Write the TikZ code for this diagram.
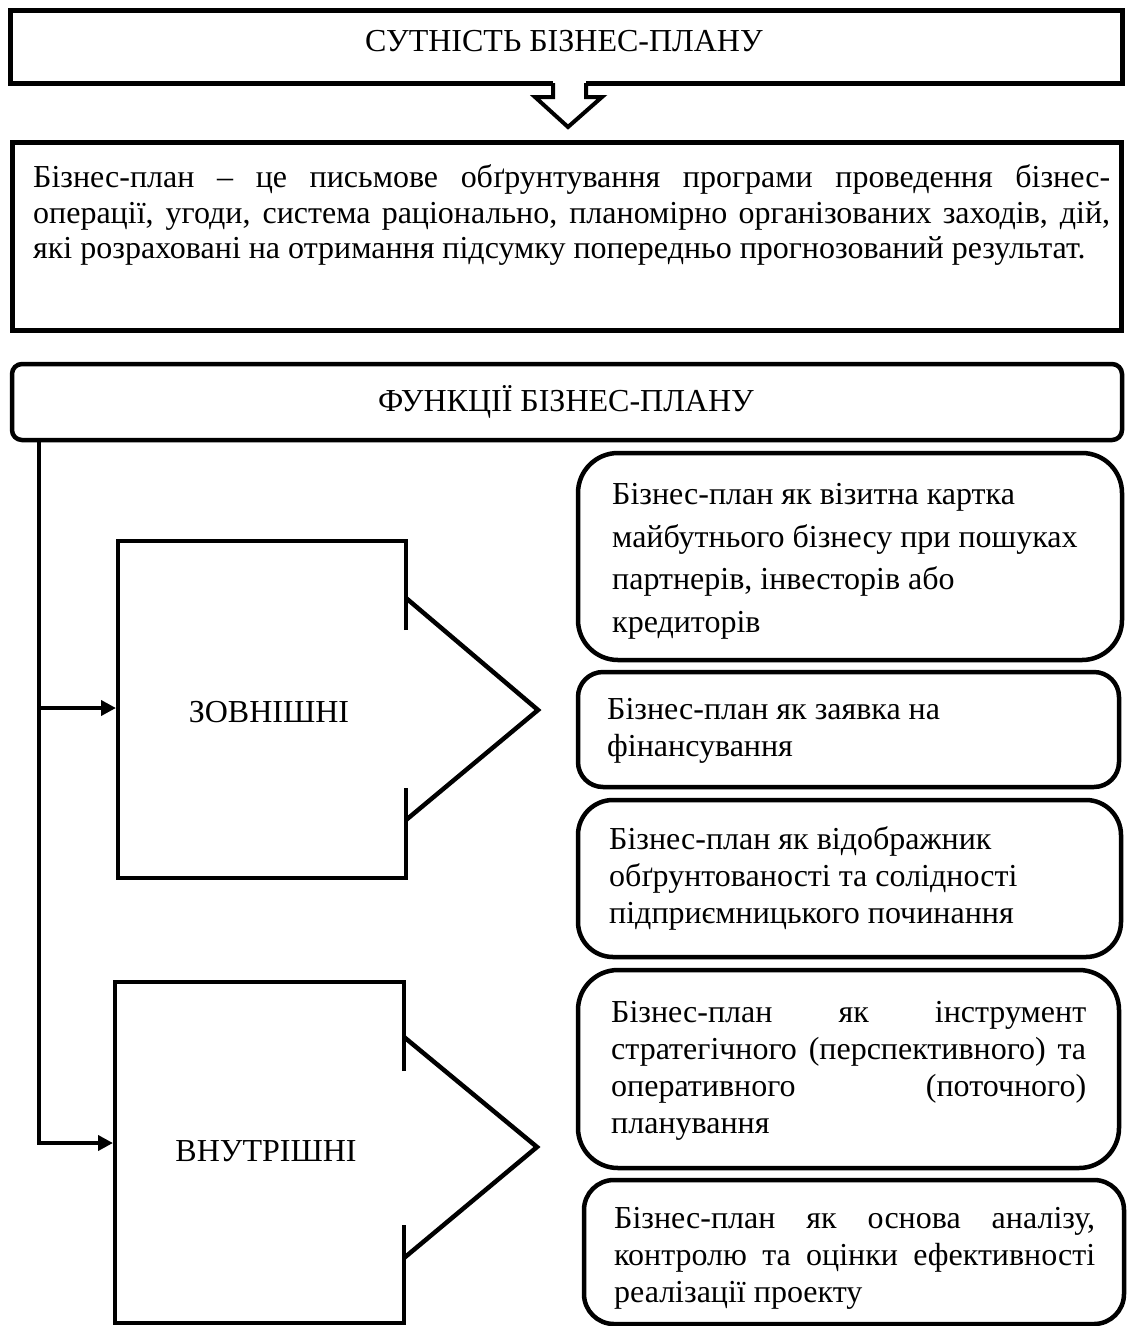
\documentclass[tikz,border=0pt]{standalone}
\usepackage{fontspec}
\setmainfont{Liberation Serif}
\usetikzlibrary{arrows.meta}
\begin{document}
\begin{tikzpicture}[x=1pt,y=-1pt,
  sqbox/.style={line width=5pt},
  rbox/.style={draw,line width=4.5pt,rounded corners=#1},
  conn/.style={line width=4pt,-{Triangle[length=15pt,width=15pt]}},
  callout/.style={line width=4.5pt,line cap=butt},
  txt/.style={font=\fontsize{32}{38}\selectfont,inner sep=0pt,anchor=base west},
  ctxt/.style={font=\fontsize{32}{38}\selectfont,inner sep=0pt,anchor=base}]
\useasboundingbox[fill=white] (0,0) rectangle (1127,1326);

% ---- top box with hollow arrow
\draw[sqbox] (10,10) rectangle (1122,83);
\node[ctxt] (t1) at (564,51) {СУТНІСТЬ БІЗНЕС-ПЛАНУ};
\fill[white] (553,80) rectangle (586,98);
\draw[line width=4pt,line join=miter] (553,83) -- (553,97) -- (535,97) -- (568,127) -- (602,97) -- (586,97) -- (586,83);

% ---- definition box
\draw[sqbox] (12,142) rectangle (1121,330);
\node[txt] (d1) at (33,187) {\makebox[1077pt][s]{Бізнес-план – це письмове обґрунтування програми проведення бізнес-}};
\node[txt] (d2) at (33,223) {\makebox[1077pt][s]{операції, угоди, система раціонально, планомірно організованих заходів, дій,}};
\node[txt] (d3) at (33,258) {які розраховані на отримання підсумку попередньо прогнозований результат.};

% ---- functions box
\node[draw,line width=4.5pt,rounded corners=10pt,minimum width=1110pt,minimum height=76pt,inner sep=0pt] (func) at (567,402) {};
\node[ctxt] (ftxt) at (566,411) {ФУНКЦІЇ БІЗНЕС-ПЛАНУ};

% ---- callout shapes
\draw[callout] (406,630) -- (406,541) -- (118,541) -- (118,878) -- (406,878) -- (406,788);
\draw[callout,line join=miter] (406,598) -- (538,710) -- (406,820);
\node[ctxt] (ext) at (269,722) {ЗОВНІШНІ};

\draw[callout] (404,1071) -- (404,982) -- (115,982) -- (115,1323) -- (404,1323) -- (404,1225);
\draw[callout,line join=miter] (404,1037) -- (537,1147) -- (404,1258);
\node[ctxt] (int) at (266,1161) {ВНУТРІШНІ};

% ---- connectors
\coordinate (vx) at (39,0);
\coordinate (v1) at (39,708);
\coordinate (v2) at (39,1143);
\coordinate (extL) at (116,708);
\coordinate (intL) at (113,1143);
\draw[conn,line join=miter] (func.south -| vx) -- (v2) -- (intL);
\draw[conn] (v1) -- (extL);

% ---- right boxes
\draw[rbox=40pt] (578,453) rectangle (1122,660);
\node[txt] (b1a) at (612,504) {Бізнес-план як візитна картка};
\node[txt] (b1b) at (612,547) {майбутнього бізнесу при пошуках};
\node[txt] (b1c) at (612,589) {партнерів, інвесторів або};
\node[txt] (b1d) at (612,632) {кредиторів};

\draw[rbox=25pt] (578,672) rectangle (1119,787);
\node[txt] (b2a) at (607,719) {Бізнес-план як заявка на};
\node[txt] (b2b) at (607,756) {фінансування};

\draw[rbox=35pt] (578,800) rectangle (1121,957);
\node[txt] (b3a) at (609,849) {Бізнес-план як відображник};
\node[txt] (b3b) at (609,886) {обґрунтованості та солідності};
\node[txt] (b3c) at (609,923) {підприємницького починання};

\draw[rbox=40pt] (578,970) rectangle (1119,1168);
\node[txt] (b4a) at (611,1022) {\makebox[475pt][s]{Бізнес-план як інструмент}};
\node[txt] (b4b) at (611,1059) {\makebox[475pt][s]{стратегічного (перспективного) та}};
\node[txt] (b4c) at (611,1096) {\makebox[475pt][s]{оперативного (поточного)}};
\node[txt] (b4d) at (611,1133) {планування};

\draw[rbox=30pt] (584,1180) rectangle (1124,1324);
\node[txt] (b5a) at (614,1228) {\makebox[481pt][s]{Бізнес-план як основа аналізу,}};
\node[txt] (b5b) at (614,1265) {\makebox[481pt][s]{контролю та оцінки ефективності}};
\node[txt] (b5c) at (614,1302) {реалізації проекту};
\end{tikzpicture}
\end{document}
